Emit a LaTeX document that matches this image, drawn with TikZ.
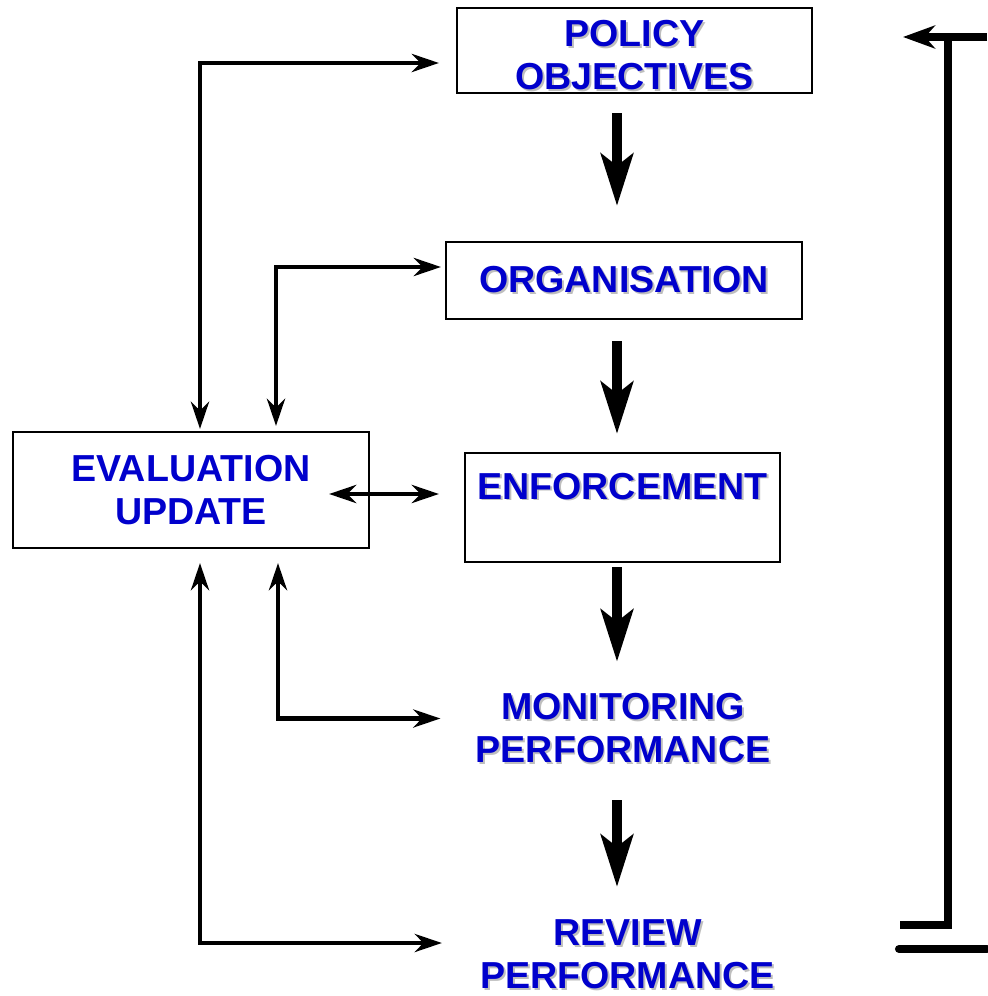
\documentclass[tikz,border=0pt]{standalone}
\usepackage{fontspec}
\setmainfont{Liberation Sans}
\usetikzlibrary{arrows.meta,calc}

\definecolor{planblue}{RGB}{0,0,204}
\definecolor{shadegray}{RGB}{190,190,190}
\newcommand{\shd}[1]{\rlap{\hspace{1.1pt}\raisebox{-1.1pt}{\textcolor{shadegray}{#1}}}#1}

\begin{document}
\begin{tikzpicture}[x=0.02cm, y=-0.02cm]
		\tikzstyle{every node}=[align=center, text=planblue, font=\fontsize{21.4pt}{24.6pt}\selectfont\bfseries]
		\tikzstyle{stage}=[draw=black, line width=1.2pt, inner sep=0pt]
		\tikzstyle{flow}=[line width=5.8pt, -{Stealth[length=1.04cm, width=0.64cm, inset=0.24cm]}]
		\tikzstyle{link}=[line width=2.8pt, {Stealth[length=0.54cm, width=0.36cm, inset=0.17cm]}-{Stealth[length=0.54cm, width=0.36cm, inset=0.17cm]}]
		\tikzstyle{frame}=[line width=4.6pt]
		\useasboundingbox (0,0) rectangle (987,996);

		\node [stage, minimum width=7.1cm, minimum height=1.7cm] (policy) at (634.5, 50.5) {\rule{0pt}{0.74cm}\shd{POLICY}\\\shd{OBJECTIVES}};
		\node [stage, minimum width=7.12cm, minimum height=1.54cm] (org) at (624, 280.5) {\shd{ORGANISATION}};
		\node [stage, minimum width=6.3cm, minimum height=2.18cm] (enf) at (622.5, 507.5) {\shd{ENFORCEMENT}\\\mbox{}};
		\node [stage, minimum width=7.12cm, minimum height=2.32cm] (eval) at (191, 490) {EVALUATION\\UPDATE};
		\node [inner sep=0pt] (mon) at (623, 729) {\shd{MONITORING}\\\shd{PERFORMANCE}};
		\node [inner sep=0pt] (rev) at (627.5, 955) {\shd{REVIEW}\\\shd{PERFORMANCE}};
		\coordinate (spine) at (617, 0);

		\draw [flow, shorten <=0.38cm, shorten >=0.7cm] (policy.south -| spine) -- (org.north -| spine);
		\draw [flow, shorten <=0.42cm, shorten >=0.36cm] (org.south -| spine) -- (enf.north -| spine);
		\draw [flow, shorten <=0.08cm, shorten >=0.62cm] (enf.south -| spine) -- (mon.north -| spine);
		\draw [flow, shorten <=0.7cm, shorten >=0.64cm] (mon.south -| spine) -- (rev.north -| spine);

		\draw [link, shorten <=0.04cm, shorten >=0.34cm] ($(eval.north)+(9,0)$) |- ($(policy.west)+(0,12.5)$);
		\draw [link, shorten <=0.1cm, shorten >=0.08cm] ($(eval.north)+(85,0)$) |- ($(org.west)+(0,-13.5)$);
		\draw [link] ($(eval.east)+(-41,4)$) -- ($(enf.west)+(-25,-13.5)$);
		\draw [link, shorten <=0.28cm, shorten >=0.7cm] ($(eval.south)+(87,0)$) |- ($(mon.west)+(0,-10.5)$);
		\draw [link, shorten <=0.28cm, shorten >=0.76cm] ($(eval.south)+(9,0)$) |- ($(rev.west)+(0,-12)$);

		% feedback bracket on the right
		\coordinate (fbtop) at (987, 37);
		\coordinate (fbtip) at (903, 37);
		\coordinate (fbcorner) at (948, 37);
		\coordinate (fbfoot) at (948, 925);
		\coordinate (fbend) at (900, 925);
		\coordinate (rulea) at (899, 949);
		\coordinate (ruleb) at (987, 949);
		\draw [frame, -{Stealth[length=0.64cm, width=0.46cm, inset=0.2cm]}] (fbtop) -- (fbtip);
		\draw [frame, line join=miter] (fbcorner) -- (fbfoot) -- (fbend);
		\draw [frame, line cap=round] (rulea) -- (ruleb);
	\end{tikzpicture}
\end{document}
